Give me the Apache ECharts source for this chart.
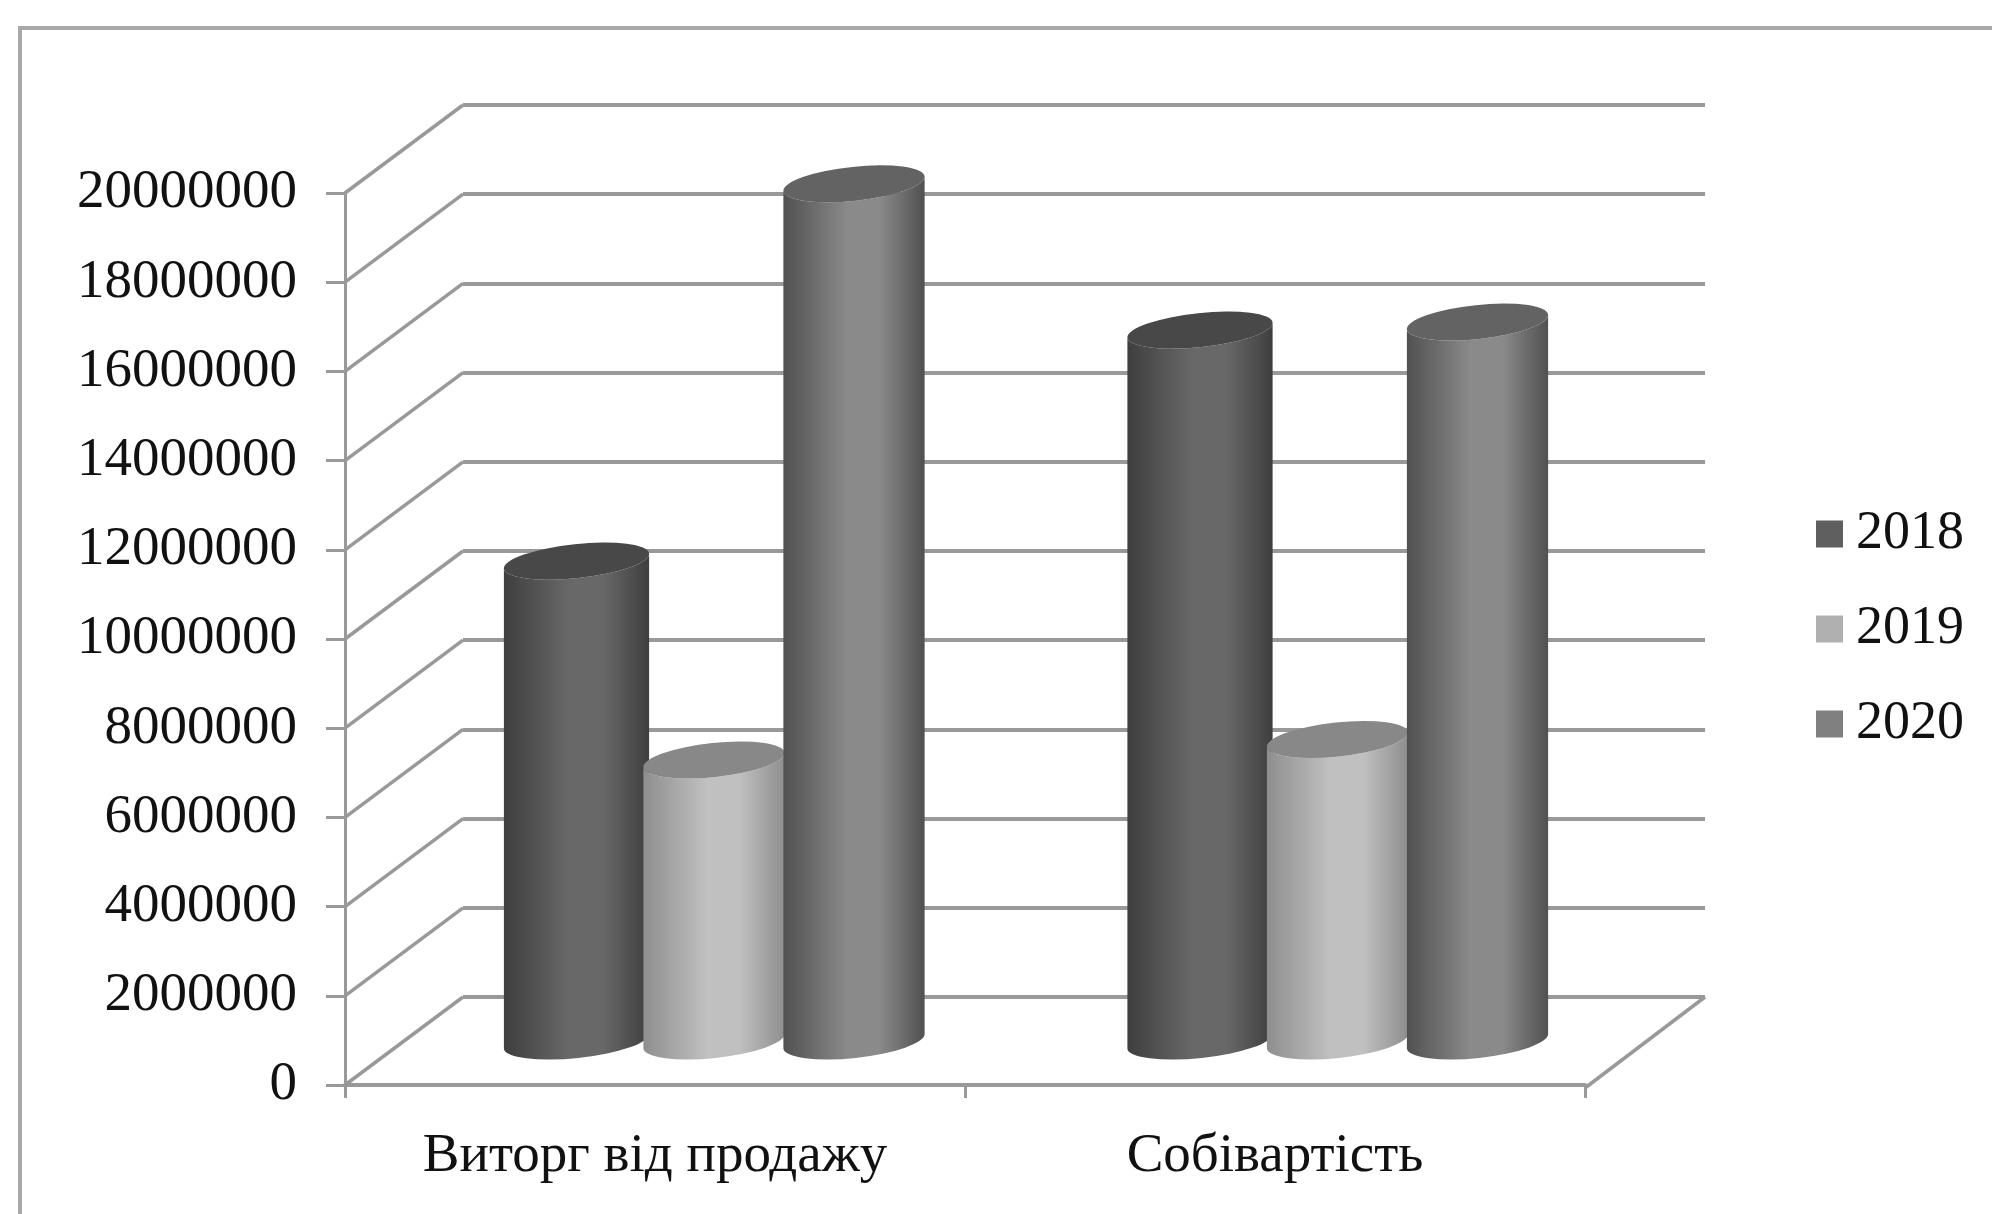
<!DOCTYPE html>
<html>
<head>
<meta charset="utf-8">
<style>
  html, body { margin: 0; padding: 0; background: #fff; }
  #chart { width: 1992px; height: 1214px; }
</style>
<script src="https://cdn.jsdelivr.net/npm/echarts@6/dist/echarts.min.js"></script>
</head>
<body>
<div id="chart"></div>
<script>
const categories = ["Виторг від продажу", "Собівартість"];
const seriesNames = ["2018", "2019", "2020"];
const values2018 = [10760000, 15940000];
const values2019 = [6300000, 6760000];
const values2020 = [19220000, 16120000];
const yTicks = [0, 2000000, 4000000, 6000000, 8000000, 10000000, 12000000, 14000000, 16000000, 18000000, 20000000];

const fontFamily = '"Liberation Serif", "Times New Roman", serif';
const lineColor = "#999999";

// depth of the fake 3d box, px
const depthX = 118;
const depthY = 88;

// edge, middle, top cap
const shades = [
  { edge: "#3e3e3e", mid: "#686868", cap: "#484848", legend: "#5f5f5f" },
  { edge: "#8e8e8e", mid: "#c0c0c0", cap: "#888888", legend: "#b0b0b0" },
  { edge: "#505050", mid: "#8a8a8a", cap: "#636363", legend: "#808080" },
];
const barOffset = [-137.5, 0, 140];
const catNudge = [0, 3.5];
const barRx = [73, 71, 71];
const barRy = 17;
const tilt = -6;

const renderCylinder = (idx) => (params, api) => {
  const top = api.coord([api.value(0), api.value(1)]);
  const base = api.coord([api.value(0), 0]);
  const cx = top[0] + depthX / 2 + barOffset[idx] + catNudge[api.value(0)];
  const topY = top[1] - depthY / 2;
  const baseY = base[1] - depthY / 2;
  const rx = barRx[idx];
  const rad = (tilt * Math.PI) / 180;
  const ex = rx * Math.cos(rad);
  const ey = rx * Math.sin(rad);
  const s = shades[idx];
  const l = cx - ex, r = cx + ex;
  const arc = `${rx} ${barRy} ${tilt}`;
  const body =
    `M${l} ${topY - ey}L${l} ${baseY - ey}` +
    `A${arc} 0 0 ${r} ${baseY + ey}` +
    `L${r} ${topY + ey}` +
    `A${arc} 0 1 ${l} ${topY - ey}Z`;
  const cap =
    `M${l} ${topY - ey}A${arc} 0 1 ${r} ${topY + ey}` +
    `A${arc} 0 1 ${l} ${topY - ey}Z`;
  return {
    type: "group",
    children: [
      {
        type: "path",
        shape: { pathData: body },
        style: {
          fill: new echarts.graphic.LinearGradient(0, 0, 1, 0, [
            { offset: 0, color: s.edge },
            { offset: 0.45, color: s.mid },
            { offset: 0.68, color: s.mid },
            { offset: 1, color: s.edge },
          ]),
        },
      },
      { type: "path", shape: { pathData: cap }, style: { fill: s.cap } },
    ],
  };
};

const cylinderSeries = (name, values, idx) => ({
  name,
  type: "custom",
  xAxisIndex: 0,
  yAxisIndex: 0,
  z: 4 + idx,
  clip: false,
  itemStyle: { color: shades[idx].legend },
  renderItem: renderCylinder(idx),
  encode: { x: 0, y: 1 },
  data: values.map((v, i) => [i, v]),
});

const chart = echarts.init(document.getElementById("chart"), null, { renderer: "canvas" });

chart.setOption({
  backgroundColor: "#ffffff",
  animation: false,
  textStyle: { fontFamily },
  graphic: [
    {
      type: "polyline",
      shape: { points: [[20, 1214], [20, 28], [1992, 28]] },
      style: { stroke: "#a8a8a8", lineWidth: 4, fill: null },
    },
  ],
  legend: {
    data: seriesNames,
    orient: "vertical",
    left: 1816,
    top: 504,
    padding: 0,
    itemWidth: 27,
    itemHeight: 27,
    itemGap: 35,
    icon: "rect",
    textStyle: { fontFamily, fontSize: 54, color: "#111", padding: [0, 0, 0, 8], lineHeight: 60 },
  },
  grid: [
    { left: 345, top: 193, width: 1240, height: 892 },
    { left: 345 + depthX, top: 193 - depthY, width: 1242, height: 892 },
  ],
  xAxis: [
    {
      type: "category",
      gridIndex: 0,
      data: categories,
      offset: 3,
      axisLine: { lineStyle: { color: lineColor, width: 4 } },
      axisTick: { show: true, length: 13, lineStyle: { color: lineColor, width: 3 } },
      axisLabel: { fontFamily, fontSize: 55, color: "#111", margin: 41 },
    },
    { type: "category", gridIndex: 1, data: categories, show: false },
  ],
  yAxis: [
    {
      type: "value",
      gridIndex: 0,
      min: 0,
      max: 20000000,
      interval: 2000000,
      axisLine: { show: true, lineStyle: { color: lineColor, width: 3 } },
      axisTick: { show: true, length: 19, lineStyle: { color: lineColor, width: 3 } },
      splitLine: { show: false },
      axisLabel: {
        fontFamily,
        fontSize: 55,
        color: "#111",
        margin: 48,
        formatter: (v) => String(v),
      },
    },
    {
      type: "value",
      gridIndex: 1,
      min: 0,
      max: 20000000,
      interval: 2000000,
      axisLine: { show: false },
      axisTick: { show: false },
      axisLabel: { show: false },
      splitLine: { show: true, lineStyle: { color: lineColor, width: 4 } },
    },
  ],
  series: [
    {
      // diagonal lines on the side wall + right edge of the floor
      type: "custom",
      xAxisIndex: 0,
      yAxisIndex: 0,
      z: 1,
      silent: true,
      clip: false,
      renderItem: (params, api) => {
        const p = api.coord([0, api.value(0)]);
        const x0 = api.coord([0, 0])[0] - api.size([1, 0])[0] / 2;
        const style = { stroke: lineColor, lineWidth: 3.5 };
        const children = [
          { type: "line", shape: { x1: x0, y1: p[1], x2: x0 + depthX, y2: p[1] - depthY }, style },
        ];
        if (api.value(0) === 0) {
          const x1 = x0 + api.size([1, 0])[0] * categories.length;
          children.push({
            type: "line",
            shape: { x1, y1: p[1] + 3, x2: x1 + depthX + 2, y2: p[1] - depthY },
            style,
          });
        }
        return { type: "group", children };
      },
      encode: { y: 0 },
      data: yTicks.map((v) => [v]),
    },
    cylinderSeries(seriesNames[0], values2018, 0),
    cylinderSeries(seriesNames[1], values2019, 1),
    cylinderSeries(seriesNames[2], values2020, 2),
  ],
});
</script>
</body>
</html>
